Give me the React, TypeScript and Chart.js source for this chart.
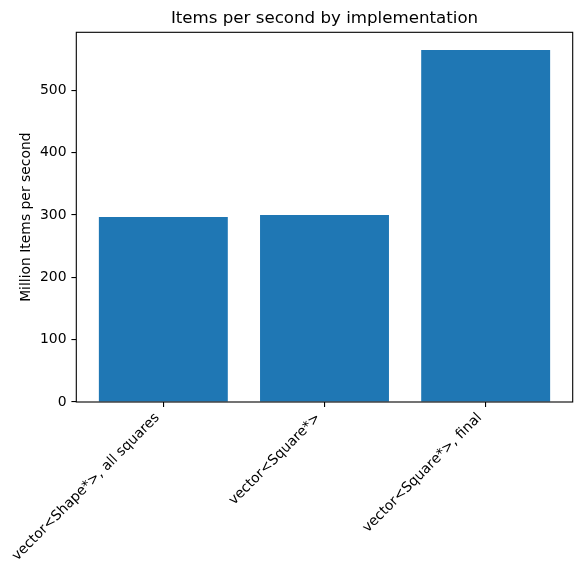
import React, { useEffect, useRef } from "react";
import { Chart, registerables } from "chart.js";

Chart.register(...registerables);

const categories = ["vector<Shape*>, all squares", "vector<Square*>", "vector<Square*>, final"];
const itemsPerSecond = [296.8, 300.0, 564.6];
const yTicks = [0, 100, 200, 300, 400, 500];
const chartTitle = "Items per second by implementation";
const yLabel = "Million Items per second";

const FONT = "'DejaVu Sans', sans-serif";

const framePlugin = {
  id: "frame",
  afterDraw(chart: any) {
    const { ctx, chartArea } = chart;
    ctx.save();
    ctx.strokeStyle = "#000";
    ctx.lineWidth = 1.1;
    ctx.strokeRect(chartArea.left, chartArea.top, chartArea.right - chartArea.left, chartArea.bottom - chartArea.top);
    ctx.restore();
  },
};

export default function App() {
  const ref = useRef<HTMLCanvasElement | null>(null);
  useEffect(() => {
    if (!ref.current) return;
    const n = categories.length;
    const xMin = -0.4 - 0.05 * (n - 1 + 0.8);
    const xMax = n - 1 + 0.4 + 0.05 * (n - 1 + 0.8);
    const yMax = Math.max(...itemsPerSecond) * 1.05;
    const chart = new Chart(ref.current, {
      type: "bar",
      data: {
        datasets: [
          {
            data: itemsPerSecond.map((v, i) => ({ x: i, y: v })),
            backgroundColor: "#1f77b4",
            borderWidth: 0,
            categoryPercentage: 1,
            barPercentage: 0.8,
          },
        ],
      },
      plugins: [framePlugin],
      options: {
        animation: false,
        responsive: false,
        devicePixelRatio: 1,
        layout: { padding: { left: 0, right: 8.3, top: 0, bottom: 0 } },
        plugins: {
          legend: { display: false },
          tooltip: { enabled: false },
          title: {
            display: true,
            fullSize: false,
            text: chartTitle,
            color: "#000",
            font: { family: FONT, size: 16.67, weight: "normal" as any },
            padding: { top: 9, bottom: 3.3 },
          },
        },
        scales: {
          x: {
            type: "linear",
            min: xMin,
            max: xMax,
            offset: false,
            afterBuildTicks: (scale: any) => {
              scale.ticks = categories.map((_, i) => ({ value: i }));
            },
            afterFit: (scale: any) => {
              scale.height = 172;
              scale.paddingLeft = 0;
              scale.paddingRight = 0;
            },
            grid: {
              display: true,
              offset: false,
              drawOnChartArea: false,
              drawTicks: true,
              tickLength: 4.9,
              tickColor: "#000",
              lineWidth: 1.1,
            },
            border: { display: false },
            ticks: {
              autoSkip: false,
              minRotation: 45,
              maxRotation: 45,
              padding: 2.9,
              labelOffset: -6,
              color: "#000",
              font: { family: FONT, size: 13.9 },
              callback: (v: any) => categories[Math.round(Number(v))] ?? "",
            },
          },
          y: {
            type: "linear",
            min: 0,
            max: yMax,
            afterBuildTicks: (scale: any) => {
              scale.ticks = yTicks.map((v) => ({ value: v }));
            },
            afterFit: (scale: any) => {
              scale.width = 76.3;
              scale.paddingTop = 0;
              scale.paddingBottom = 0;
            },
            grid: {
              display: true,
              drawOnChartArea: false,
              drawTicks: true,
              tickLength: 4.9,
              tickColor: "#000",
              lineWidth: 1.1,
            },
            border: { display: false },
            ticks: {
              padding: 4.9,
              color: "#000",
              font: { family: FONT, size: 13.9 },
              callback: (v: any) => String(v),
            },
            title: {
              display: true,
              text: yLabel,
              color: "#000",
              font: { family: FONT, size: 13.9 },
              padding: { top: 17.7, bottom: 0 },
            },
          },
        },
      },
    });
    return () => chart.destroy();
  }, []);
  return (
    <div style={{ position: "absolute", left: 0, top: 0, width: 581, height: 574, background: "#fff" }}>
      <canvas ref={ref} width={581} height={574} />
    </div>
  );
}
